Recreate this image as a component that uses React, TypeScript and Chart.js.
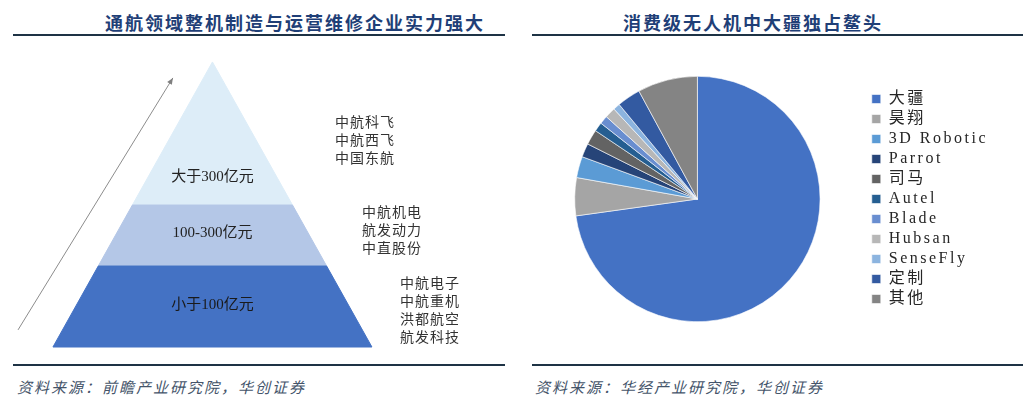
import React, { useEffect, useRef } from "react";
import { Chart, registerables } from "chart.js";

Chart.register(...registerables);

// ---------- Left panel: pyramid ----------
const tierNames = ["小于100亿元", "100-300亿元", "大于300亿元"];
const tierBounds = [0, 0.284, 0.498, 1]; // relative heights of tier boundaries (base = 0, apex = 1)
const tierColors = ["#4472C4", "#B4C7E7", "#DDEDF8"];
const tierLabelLevels = [0.147, 0.4, 0.596];
const tierCompanies = [
  ["中航电子", "中航重机", "洪都航空", "航发科技"],
  ["中航机电", "航发动力", "中直股份"],
  ["中航科飞", "中航西飞", "中国东航"],
];
const companyAnchorX = [1.176, 0.937, 0.768];
const companyAnchorY = [0.225, 0.474, 0.789];
const arrowStart = { x: -1.219, y: 0.06 };
const arrowEnd = { x: -0.248, y: 0.944 };

// ---------- Right panel: pie ----------
const droneMakers = ["大疆", "昊翔", "3D Robotic", "Parrot", "司马", "Autel", "Blade", "Hubsan", "SenseFly", "定制", "其他"];
const droneShares = [72.8, 5.0, 2.8, 1.8, 2.0, 1.2, 1.1, 1.4, 0.9, 3.1, 7.9];
const droneColors = ["#4472C4", "#A5A5A5", "#5B9BD5", "#264478", "#636363", "#255E91", "#698ED0", "#B7B7B7", "#8CB4DF", "#335AA1", "#848484"];

const CJK = "'Noto Sans CJK SC'";

function tierPolygon(lo: number, hi: number) {
  const pts = [
    { x: -(1 - lo), y: lo },
    { x: 1 - lo, y: lo },
    { x: 1 - hi, y: hi },
    { x: -(1 - hi), y: hi },
  ];
  pts.push({ ...pts[0] });
  return pts;
}

const pyramidLabels = {
  id: "pyramidLabels",
  afterDatasetsDraw(chart: any) {
    const { ctx, scales } = chart;
    const xs = scales.x;
    const ys = scales.y;
    ctx.save();
    // arrow head
    const x1 = xs.getPixelForValue(arrowStart.x);
    const y1 = ys.getPixelForValue(arrowStart.y);
    const x2 = xs.getPixelForValue(arrowEnd.x);
    const y2 = ys.getPixelForValue(arrowEnd.y);
    const ang = Math.atan2(y2 - y1, x2 - x1);
    ctx.fillStyle = "#7F7F7F";
    ctx.beginPath();
    ctx.moveTo(x2, y2);
    ctx.lineTo(x2 - 7 * Math.cos(ang - 0.4), y2 - 7 * Math.sin(ang - 0.4));
    ctx.lineTo(x2 - 7 * Math.cos(ang + 0.4), y2 - 7 * Math.sin(ang + 0.4));
    ctx.closePath();
    ctx.fill();

    // tier labels
    ctx.textAlign = "center";
    ctx.textBaseline = "middle";
    ctx.font = `15px 'Liberation Serif', ${CJK}`;
    tierNames.forEach((n, i) => {
      ctx.fillStyle = i === 0 ? "#1a1a1a" : "#222222";
      ctx.fillText(n, xs.getPixelForValue(0), ys.getPixelForValue(tierLabelLevels[i]));
    });

    // companies
    ctx.textAlign = "left";
    ctx.font = `14px ${CJK}`;
    ctx.fillStyle = "#333333";
    try { (ctx as any).letterSpacing = "1px"; } catch (e) {}
    tierCompanies.forEach((group, i) => {
      const px = xs.getPixelForValue(companyAnchorX[i]);
      const py = ys.getPixelForValue(companyAnchorY[i]);
      group.forEach((name, j) => {
        ctx.fillText(name, px, py + j * 18);
      });
    });
    ctx.restore();
  },
};

function Pyramid() {
  const ref = useRef<HTMLCanvasElement>(null);
  useEffect(() => {
    if (!ref.current) return;
    const datasets: any[] = tierNames.map((n, i) => ({
      label: n,
      data: tierPolygon(tierBounds[i], tierBounds[i + 1]),
      showLine: true,
      fill: "shape",
      backgroundColor: tierColors[i],
      borderColor: tierColors[i],
      borderWidth: 1,
      pointRadius: 0,
      tension: 0,
    }));
    datasets.push({
      label: "arrow",
      data: [arrowStart, arrowEnd],
      showLine: true,
      fill: false,
      borderColor: "#8C8C8C",
      borderWidth: 1,
      pointRadius: 0,
    });
    const chart = new Chart(ref.current, {
      type: "scatter",
      data: { datasets },
      options: {
        animation: false,
        responsive: false,
        layout: { padding: 0 },
        plugins: { legend: { display: false }, tooltip: { enabled: false } },
        scales: {
          x: { type: "linear", display: false, min: -1.332, max: 1.897 },
          y: { type: "linear", display: false, min: -0.0456, max: 1.077 },
        },
        clip: false as any,
      } as any,
      plugins: [pyramidLabels],
    });
    return () => chart.destroy();
  }, []);
  return <canvas ref={ref} width={515} height={320} style={{ position: "absolute", left: 0, top: 40, width: 515, height: 320 }} />;
}

const spacedText = {
  id: "spacedText",
  beforeLayout(chart: any) {
    try { chart.ctx.letterSpacing = "2.5px"; } catch (e) {}
  },
  beforeDraw(chart: any) {
    try { chart.ctx.letterSpacing = "2.5px"; } catch (e) {}
  },
};

function DronePie() {
  const ref = useRef<HTMLCanvasElement>(null);
  useEffect(() => {
    if (!ref.current) return;
    const chart = new Chart(ref.current, {
      type: "pie",
      data: {
        labels: droneMakers,
        datasets: [
          {
            data: droneShares,
            backgroundColor: droneColors,
            borderColor: "#ffffff",
            borderWidth: 0.6,
          },
        ],
      },
      options: {
        animation: false,
        responsive: false,
        layout: { padding: { left: 7, right: 32, top: 36, bottom: 38 } },
        plugins: {
          tooltip: { enabled: false },
          legend: {
            position: "right",
            labels: {
              boxWidth: 9,
              boxHeight: 9,
              padding: 4,
              color: "#262626",
              font: { size: 16, family: `'Liberation Serif', ${CJK}` },
            },
          },
        },
      } as any,
      plugins: [spacedText],
    });
    return () => chart.destroy();
  }, []);
  return <canvas ref={ref} width={510} height={320} style={{ position: "absolute", left: 520, top: 40, width: 510, height: 320 }} />;
}

const titleStyle: React.CSSProperties = {
  position: "absolute",
  top: 12,
  height: 20,
  lineHeight: "20px",
  fontFamily: CJK,
  fontWeight: 700,
  fontSize: 18,
  letterSpacing: 2,
  color: "#1F3F77",
  whiteSpace: "nowrap",
};
const sourceStyle: React.CSSProperties = {
  position: "absolute",
  top: 377,
  height: 20,
  lineHeight: "20px",
  fontFamily: CJK,
  fontStyle: "italic",
  fontSize: 15,
  letterSpacing: 2,
  color: "#44546A",
  whiteSpace: "nowrap",
};
const rule = (left: number, top: number, width: number): React.CSSProperties => ({
  position: "absolute",
  left,
  top,
  width,
  height: 2,
  background: "#1E3345",
});

export default function App() {
  return (
    <div style={{ position: "absolute", left: 0, top: 0, width: 1030, height: 405, background: "#ffffff", overflow: "hidden" }}>
      <div style={{ ...titleStyle, left: 105 }}>通航领域整机制造与运营维修企业实力强大</div>
      <div style={{ ...titleStyle, left: 623 }}>消费级无人机中大疆独占鳌头</div>
      <div style={rule(13, 34, 492)} />
      <div style={rule(532, 34, 491)} />
      <Pyramid />
      <DronePie />
      <div style={rule(13, 364, 492)} />
      <div style={rule(532, 364, 491)} />
      <div style={{ ...sourceStyle, left: 17 }}>资料来源：前瞻产业研究院，华创证券</div>
      <div style={{ ...sourceStyle, left: 535 }}>资料来源：华经产业研究院，华创证券</div>
    </div>
  );
}
